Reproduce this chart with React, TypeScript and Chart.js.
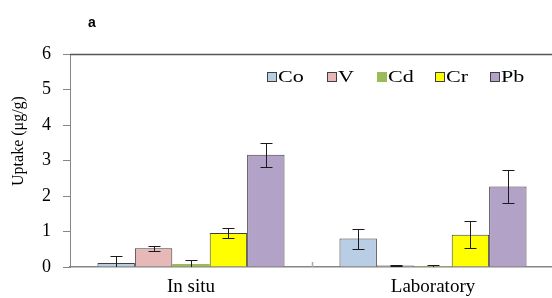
import React, { useEffect, useRef } from "react";
import { Chart, registerables } from "chart.js";

Chart.register(...registerables);

const categories = ["In situ", "Laboratory"];
const seriesNames = ["Co", "V", "Cd", "Cr", "Pb"];
const coValues = [0.11, 0.8];
const vValues = [0.53, 0.045];
const cdValues = [0.085, 0.03];
const crValues = [0.96, 0.91];
const pbValues = [3.16, 2.27];
const coErrors = [0.19, 0.28];
const vErrors = [0.07, 0.02];
const cdErrors = [0.1, 0.03];
const crErrors = [0.15, 0.38];
const pbErrors = [0.33, 0.47];
const yTicks = [0, 1, 2, 3, 4, 5, 6];

const seriesValues = [coValues, vValues, cdValues, crValues, pbValues];
const seriesErrors = [coErrors, vErrors, cdErrors, crErrors, pbErrors];
const seriesColors = ["#b9cde5", "#e6b9b8", "#9bbb59", "#ffff00", "#b3a2c7"];
const seriesBorders = [1, 1, 0, 1, 1];

const SERIF = "'Liberation Serif', 'Times New Roman', serif";

const errorBarPlugin = {
  id: "errorBars",
  afterDatasetsDraw(chart: any) {
    const ctx = chart.ctx;
    const y = chart.scales.y;
    const area = chart.chartArea;
    ctx.save();
    ctx.beginPath();
    ctx.rect(area.left, area.top - 2, area.right - area.left, area.bottom - area.top + 2);
    ctx.clip();
    ctx.strokeStyle = "#1a1a1a";
    ctx.lineWidth = 1;
    chart.data.datasets.forEach((ds: any, i: number) => {
      const meta = chart.getDatasetMeta(i);
      const errs = seriesErrors[i];
      meta.data.forEach((bar: any, j: number) => {
        const v = ds.data[j];
        const e = errs[j];
        const x = Math.round(bar.x) + 0.5;
        const yt = Math.round(y.getPixelForValue(v + e)) + 0.5;
        const yb = Math.round(y.getPixelForValue(v - e)) + 0.5;
        const cap = 6;
        ctx.beginPath();
        ctx.moveTo(x, yt);
        ctx.lineTo(x, yb);
        ctx.moveTo(x - cap, yt);
        ctx.lineTo(x + cap, yt);
        ctx.moveTo(x - cap, yb);
        ctx.lineTo(x + cap, yb);
        ctx.stroke();
      });
    });
    ctx.restore();
  },
};

const framePlugin = {
  id: "frame",
  afterDraw(chart: any) {
    const ctx = chart.ctx;
    const area = chart.chartArea;
    const xs = chart.scales.x;
    ctx.save();
    // top border
    ctx.strokeStyle = "#555555";
    ctx.lineWidth = 1.5;
    ctx.beginPath();
    ctx.moveTo(area.left, area.top + 0.5);
    ctx.lineTo(area.right, area.top + 0.5);
    ctx.stroke();
    // category separators
    const step = xs.getPixelForValue(1) - xs.getPixelForValue(0);
    ctx.strokeStyle = "#aaaaaa";
    ctx.lineWidth = 1.5;
    for (let i = 1; i < categories.length; i++) {
      const x = Math.round(xs.getPixelForValue(i) - step / 2) + 0.5;
      ctx.beginPath();
      ctx.moveTo(x, area.bottom - 5);
      ctx.lineTo(x, area.bottom);
      ctx.stroke();
    }
    // panel label
    ctx.fillStyle = "#000";
    ctx.font = "bold 14px 'Liberation Sans', Arial, sans-serif";
    ctx.textAlign = "center";
    ctx.textBaseline = "middle";
    ctx.fillText("a", area.left + 22, 23);
    // y title
    ctx.font = `16px ${SERIF}`;
    ctx.translate(19, 141);
    ctx.rotate(-Math.PI / 2);
    ctx.fillText("Uptake (\u03bcg/g)", 0, 0);
    ctx.restore();

    // legend
    ctx.save();
    const offsets = [197, 257, 307, 365, 420];
    const yc = 77;
    ctx.font = `17px ${SERIF}`;
    ctx.textBaseline = "middle";
    ctx.textAlign = "left";
    seriesNames.forEach((name, i) => {
      const bx = area.left + offsets[i];
      ctx.fillStyle = seriesColors[i];
      ctx.fillRect(bx, yc - 5, 10, 10);
      if (seriesBorders[i]) {
        ctx.strokeStyle = "#404040";
        ctx.lineWidth = 1;
        ctx.strokeRect(bx + 0.5, yc - 4.5, 9, 9);
      }
      ctx.fillStyle = "#000";
      ctx.save();
      ctx.translate(bx + 11, yc + 1);
      ctx.scale(1.3, 1);
      ctx.fillText(name, 0, 0);
      ctx.restore();
    });
    ctx.restore();
  },
};

export default function App() {
  const canvasRef = useRef<HTMLCanvasElement | null>(null);

  useEffect(() => {
    const canvas = canvasRef.current;
    if (!canvas) return;
    const chart = new Chart(canvas, {
      type: "bar",
      data: {
        labels: categories,
        datasets: seriesNames.map((name, i) => ({
          label: name,
          data: seriesValues[i],
          backgroundColor: seriesColors[i],
          borderColor: "#404040",
          borderWidth: seriesBorders[i],
          categoryPercentage: 0.773,
          barPercentage: 1,
        })),
      },
      options: {
        responsive: false,
        animation: false,
        devicePixelRatio: 1,
        layout: { padding: { left: 0, right: 2, top: 54, bottom: 0 } },
        plugins: {
          legend: { display: false },
          tooltip: { enabled: false },
          title: { display: false },
        },
        scales: {
          x: {
            offset: true,
            grid: { display: false, drawTicks: false },
            border: { display: true, color: "#868686", width: 1.5 },
            ticks: {
              color: "#000",
              padding: 9,
              font: { family: SERIF, size: 19 },
            },
            afterFit(s: any) {
              s.height = 31;
            },
          },
          y: {
            min: 0,
            max: 6,
            afterBuildTicks(s: any) {
              s.ticks = yTicks.map((v) => ({ value: v }));
            },
            grid: {
              drawOnChartArea: false,
              drawTicks: true,
              tickLength: 7,
              color: "#868686",
            },
            border: { display: true, color: "#868686", width: 1 },
            ticks: {
              color: "#000",
              padding: 12,
              font: { family: SERIF, size: 18 },
            },
            afterFit(s: any) {
              s.width = 70;
            },
          },
        },
      },
      plugins: [errorBarPlugin, framePlugin],
    });
    return () => chart.destroy();
  }, []);

  return (
    <div
      style={{
        position: "absolute",
        left: 0,
        top: 0,
        width: 552,
        height: 298,
        overflow: "hidden",
        background: "#fff",
      }}
    >
      <canvas ref={canvasRef} width={556} height={298} style={{ display: "block" }} />
    </div>
  );
}
